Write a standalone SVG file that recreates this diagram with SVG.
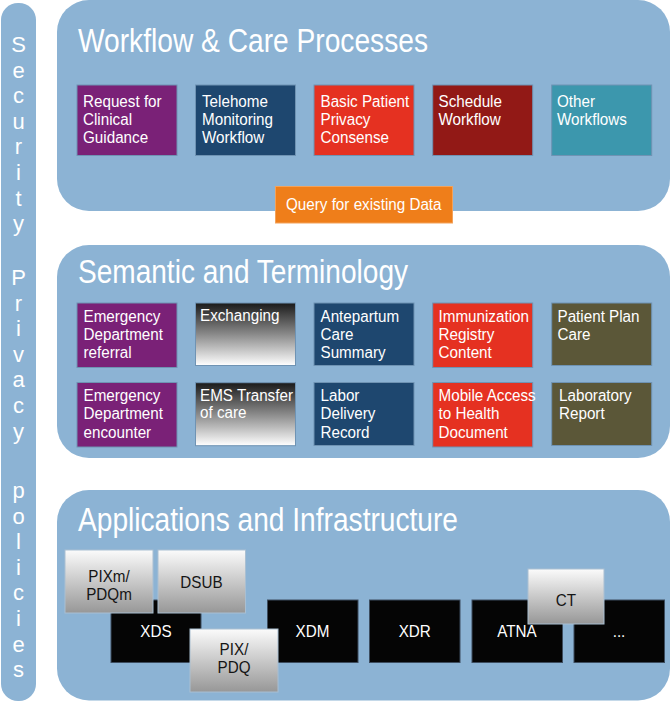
<svg xmlns="http://www.w3.org/2000/svg" width="671" height="703" viewBox="0 0 671 703">
<defs>
<linearGradient id="gDark" x1="0" y1="0" x2="0" y2="1">
<stop offset="0" stop-color="#1a1a1a"/>
<stop offset="0.5" stop-color="#8a8a8a"/>
<stop offset="1" stop-color="#ffffff"/>
</linearGradient>
<linearGradient id="gLight" x1="0" y1="0" x2="0" y2="1">
<stop offset="0" stop-color="#fbfbfb"/>
<stop offset="1" stop-color="#979797"/>
</linearGradient>
<style>
.panel{fill:#8cb3d4}
.title{font-family:"Liberation Sans",Arial,sans-serif;font-size:34px;fill:#ffffff}
.side{font-family:"Liberation Sans",Arial,sans-serif;font-size:22px;fill:#ffffff;text-anchor:middle}
.bt{font-family:"Liberation Sans",Arial,sans-serif;font-size:17.3px;fill:#ffffff}
.dt{font-family:"Liberation Sans",Arial,sans-serif;font-size:17.3px;fill:#151515;text-anchor:middle}
.wt{font-family:"Liberation Sans",Arial,sans-serif;font-size:17.3px;fill:#ffffff;text-anchor:middle}
.box{stroke:#6f93b3;stroke-width:1}
.purple{fill:#7a2177}
.navy{fill:#1e476f}
.red{fill:#e53121}
.dred{fill:#921916}
.teal{fill:#3c97ad}
.olive{fill:#5b5738}
.orange{fill:#ef7e1a;stroke:#f3a25a}
.dark{fill:url(#gDark)}
.light{fill:url(#gLight);stroke:#a9bfd2}
.black{fill:#050505;stroke:#3d4d5f}
</style>
</defs>
<rect x="0" y="0" width="671" height="703" fill="#ffffff"/>

<g id="side-bar">
<rect class="panel" x="1" y="3" width="35" height="698" rx="17" ry="17"/>
<text class="side" x="18.5" y="52">S</text>
<text class="side" x="18.5" y="77.6">e</text>
<text class="side" x="18.5" y="103.2">c</text>
<text class="side" x="18.5" y="128.8">u</text>
<text class="side" x="18.5" y="154.4">r</text>
<text class="side" x="18.5" y="180">i</text>
<text class="side" x="18.5" y="205.6">t</text>
<text class="side" x="18.5" y="231.2">y</text>
<text class="side" x="18.5" y="285">P</text>
<text class="side" x="18.5" y="310.6">r</text>
<text class="side" x="18.5" y="336.2">i</text>
<text class="side" x="18.5" y="361.8">v</text>
<text class="side" x="18.5" y="387.4">a</text>
<text class="side" x="18.5" y="413">c</text>
<text class="side" x="18.5" y="438.6">y</text>
<text class="side" x="18.5" y="498">p</text>
<text class="side" x="18.5" y="523.6">o</text>
<text class="side" x="18.5" y="549.2">l</text>
<text class="side" x="18.5" y="574.8">i</text>
<text class="side" x="18.5" y="600.4">c</text>
<text class="side" x="18.5" y="626">i</text>
<text class="side" x="18.5" y="651.6">e</text>
<text class="side" x="18.5" y="677.2">s</text>
</g>

<g id="panel-workflow">
<rect class="panel" x="57" y="0" width="613" height="211" rx="32" ry="32"/>
<text class="title" x="78" y="52" textLength="350" lengthAdjust="spacingAndGlyphs">Workflow &amp; Care Processes</text>
</g>
<g id="n-request">
<rect class="box purple" x="77" y="85" width="100" height="70.5"/>
<text class="bt" transform="translate(83,106.7) scale(0.88,1)"><tspan x="0" y="0">Request for</tspan><tspan x="0" y="18.4">Clinical</tspan><tspan x="0" y="36.8">Guidance</tspan></text>
</g>
<g id="n-telehome">
<rect class="box navy" x="195.5" y="85" width="100" height="70.5"/>
<text class="bt" transform="translate(202,106.7) scale(0.88,1)"><tspan x="0" y="0">Telehome</tspan><tspan x="0" y="18.4">Monitoring</tspan><tspan x="0" y="36.8">Workflow</tspan></text>
</g>
<g id="n-bppc">
<rect class="box red" x="314" y="85" width="100" height="70.5"/>
<text class="bt" transform="translate(320.5,106.7) scale(0.88,1)"><tspan x="0" y="0">Basic Patient</tspan><tspan x="0" y="18.4">Privacy</tspan><tspan x="0" y="36.8">Consense</tspan></text>
</g>
<g id="n-schedule">
<rect class="box dred" x="432.7" y="85" width="100" height="70.5"/>
<text class="bt" transform="translate(438.5,106.7) scale(0.88,1)"><tspan x="0" y="0">Schedule</tspan><tspan x="0" y="18.4">Workflow</tspan></text>
</g>
<g id="n-other">
<rect class="box teal" x="551.7" y="85" width="100" height="70.5"/>
<text class="bt" transform="translate(557,106.7) scale(0.88,1)"><tspan x="0" y="0">Other</tspan><tspan x="0" y="18.4">Workflows</tspan></text>
</g>
<g id="n-query">
<rect class="orange" x="275.5" y="186.5" width="177" height="36.5"/>
<text class="bt" transform="translate(286,210) scale(0.88,1)">Query for existing Data</text>
</g>

<g id="panel-semantic">
<rect class="panel" x="57" y="245" width="613" height="213" rx="32" ry="32"/>
<text class="title" x="78" y="283" textLength="330" lengthAdjust="spacingAndGlyphs">Semantic and Terminology</text>
</g>
<g id="n-edr">
<rect class="box purple" x="77" y="303" width="100" height="64.5"/>
<text class="bt" transform="translate(83.5,321.7) scale(0.88,1)"><tspan x="0" y="0">Emergency</tspan><tspan x="0" y="18.3">Department</tspan><tspan x="0" y="36.6">referral</tspan></text>
</g>
<g id="n-exchanging">
<rect class="box dark" x="195.5" y="303" width="100" height="62.5"/>
<text class="bt" transform="translate(200,321) scale(0.88,1)">Exchanging</text>
</g>
<g id="n-apcs">
<rect class="box navy" x="314" y="303" width="100" height="62.5"/>
<text class="bt" transform="translate(320.5,321.7) scale(0.88,1)"><tspan x="0" y="0">Antepartum</tspan><tspan x="0" y="18.3">Care</tspan><tspan x="0" y="36.6">Summary</tspan></text>
</g>
<g id="n-ic">
<rect class="box red" x="432.7" y="303" width="100" height="64.5"/>
<text class="bt" transform="translate(438.5,321.7) scale(0.88,1)"><tspan x="0" y="0">Immunization</tspan><tspan x="0" y="18.3">Registry</tspan><tspan x="0" y="36.6">Content</tspan></text>
</g>
<g id="n-ppc">
<rect class="box olive" x="551.7" y="303" width="100" height="62.5"/>
<text class="bt" transform="translate(557.5,321.7) scale(0.88,1)"><tspan x="0" y="0">Patient Plan</tspan><tspan x="0" y="18.3">Care</tspan></text>
</g>
<g id="n-ede">
<rect class="box purple" x="77" y="382.5" width="100" height="64.5"/>
<text class="bt" transform="translate(83.5,401) scale(0.88,1)"><tspan x="0" y="0">Emergency</tspan><tspan x="0" y="18.3">Department</tspan><tspan x="0" y="36.6">encounter</tspan></text>
</g>
<g id="n-ems">
<rect class="box dark" x="195.5" y="382.7" width="100" height="63"/>
<text class="bt" transform="translate(200,401) scale(0.88,1)"><tspan x="0" y="0">EMS Transfer</tspan><tspan x="0" y="17.5">of care</tspan></text>
</g>
<g id="n-ldr">
<rect class="box navy" x="314" y="382.5" width="100" height="63"/>
<text class="bt" transform="translate(320.5,401) scale(0.88,1)"><tspan x="0" y="0">Labor</tspan><tspan x="0" y="18.3">Delivery</tspan><tspan x="0" y="36.6">Record</tspan></text>
</g>
<g id="n-mhd">
<rect class="box red" x="432.7" y="382.5" width="100" height="64.5"/>
<text class="bt" transform="translate(438.5,401) scale(0.88,1)"><tspan x="0" y="0">Mobile Access</tspan><tspan x="0" y="18.3">to Health</tspan><tspan x="0" y="36.6">Document</tspan></text>
</g>
<g id="n-lab">
<rect class="box olive" x="551.7" y="382.5" width="100" height="63"/>
<text class="bt" transform="translate(559,401) scale(0.88,1)"><tspan x="0" y="0">Laboratory</tspan><tspan x="0" y="18.3">Report</tspan></text>
</g>

<g id="panel-apps">
<rect class="panel" x="57" y="490" width="613" height="210.5" rx="32" ry="32"/>
<text class="title" x="78" y="531" textLength="380" lengthAdjust="spacingAndGlyphs">Applications and Infrastructure</text>
</g>
<g id="n-xds">
<rect class="black" x="111" y="600" width="90" height="62.5"/>
<text class="wt" transform="translate(156,636.7) scale(0.88,1)">XDS</text>
</g>
<g id="n-xdm">
<rect class="black" x="267.5" y="600" width="90.5" height="62.5"/>
<text class="wt" transform="translate(312.5,636.7) scale(0.88,1)">XDM</text>
</g>
<g id="n-xdr">
<rect class="black" x="369.5" y="600" width="90.5" height="62.5"/>
<text class="wt" transform="translate(414.7,636.7) scale(0.88,1)">XDR</text>
</g>
<g id="n-atna">
<rect class="black" x="472" y="600" width="90.5" height="62.5"/>
<text class="wt" transform="translate(517,636.7) scale(0.88,1)">ATNA</text>
</g>
<g id="n-more">
<rect class="black" x="574" y="600" width="90.5" height="62.5"/>
<text class="wt" transform="translate(619,636.7) scale(0.88,1)">...</text>
</g>
<g id="n-pixm">
<rect class="light" x="65" y="550" width="88" height="63"/>
<text class="dt" transform="translate(109,581.7) scale(0.88,1)"><tspan x="0" y="0">PIXm/</tspan><tspan x="0" y="18.3">PDQm</tspan></text>
</g>
<g id="n-dsub">
<rect class="light" x="158" y="550" width="87.5" height="63"/>
<text class="dt" transform="translate(201.5,588) scale(0.88,1)">DSUB</text>
</g>
<g id="n-pix">
<rect class="light" x="190" y="629" width="88" height="63"/>
<text class="dt" transform="translate(234,655) scale(0.88,1)"><tspan x="0" y="0">PIX/</tspan><tspan x="0" y="17.7">PDQ</tspan></text>
</g>
<g id="n-ct">
<rect class="light" x="528" y="569" width="76" height="55"/>
<text class="dt" transform="translate(566,605.7) scale(0.88,1)">CT</text>
</g>

<g id="connectors"></g>
</svg>
